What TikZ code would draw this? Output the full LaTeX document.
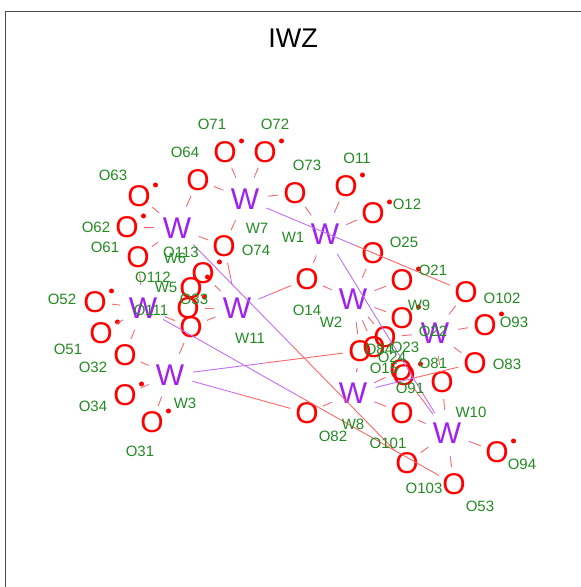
\documentclass[tikz,border=0pt]{standalone}
\usepackage{fontspec}
\setmainfont{Liberation Sans}
\usetikzlibrary{calc}
\definecolor{wpurple}{RGB}{160,32,240}
\definecolor{lgreen}{RGB}{34,139,34}

\tikzset{
  wnode/.style={circle, inner sep=0pt, minimum size=46pt, text=wpurple,
                font=\fontsize{30}{30}\selectfont},
  onode/.style={circle, inner sep=0pt, minimum size=34pt, text=red,
                font=\fontsize{30}{30}\selectfont},
  lbl/.style={text=lgreen, inner sep=0pt, font=\fontsize{15}{15}\selectfont},
  rdot/.style={circle, fill=red, inner sep=0pt, minimum size=5pt},
  hasdot/.style={label={[rdot]32:{}}},
  wline/.style={wpurple!65, line width=0.9pt},
  oline/.style={red!60, line width=0.9pt},
}

\begin{document}
\begin{tikzpicture}[x=1pt, y=-1pt]
\useasboundingbox (0,0) rectangle (581,587);
\draw[black!70, line width=1pt] (5,587) -- (5,11) -- (581,11);
\node[font=\fontsize{27}{27}\selectfont] (title) at (293,38) {IWZ};

 \begin{scope}[every node/.style=wnode]
  \node (W1) at (325,234) {W};
  \node (W2) at (353,299) {W};
  \node (W3) at (170,375) {W};
  \node (W5) at (143,308) {W};
  \node (W6) at (177,228) {W};
  \node (W7) at (245,199) {W};
  \node (W8) at (353,393) {W};
  \node (W9) at (435,333) {W};
  \node (W10) at (447,433) {W};
  \node (W11) at (237,308) {W};
 \end{scope}
 \begin{scope}[every node/.style=onode]
  \node[hasdot] (O71) at (225,152) {O};
  \node[hasdot] (O72) at (265,152) {O};
  \node (O64) at (198,180) {O};
  \node[hasdot] (O63) at (139,196) {O};
  \node[hasdot] (O62) at (127,227) {O};
  \node (O61) at (138,257) {O};
  \node (O73) at (295,193) {O};
  \node[hasdot] (O11) at (346,186) {O};
  \node[hasdot] (O12) at (373,213) {O};
  \node (O25) at (373,253) {O};
  \node (O74) at (224,246) {O};
  \node[hasdot] (O113) at (203,273) {O};
  \node[hasdot] (O112) at (191,288) {O};
  \node[hasdot] (O111) at (188,308) {O};
  \node (O33) at (191,327) {O};
  \node[hasdot] (O52) at (95,302) {O};
  \node[hasdot] (O51) at (101,333) {O};
  \node (O32) at (125,355) {O};
  \node[hasdot] (O34) at (125,395) {O};
  \node[hasdot] (O31) at (152,422) {O};
  \node (O14) at (307,279) {O};
  \node[hasdot] (O21) at (402,280) {O};
  \node (O102) at (466,292) {O};
  \node[hasdot] (O93) at (485,325) {O};
  \node (O83) at (475,363) {O};
  \node[hasdot] (O22) at (402,318) {O};
  \node (O23) at (385,337) {O};
  \node (O24) at (374,347) {O};
  \node (O84) at (360,351) {O};
  \node (O15) at (401,370) {O};
  \node[hasdot] (O81) at (404,375) {O};
  \node (O91) at (442,382) {O};
  \node (O82) at (307,413) {O};
  \node (O101) at (402,413) {O};
  \node (O103) at (407,463) {O};
  \node (O53) at (454,484) {O};
  \node[hasdot] (O94) at (497,452) {O};
 \end{scope}

 % each edge: W half in purple, O half in red
 \foreach \w/\o in {W6/O63, W6/O62, W6/O61, W6/O64, W6/O74, W6/O103,
   W7/O71, W7/O72, W7/O64, W7/O73, W7/O74, W7/O102,
   W1/O73, W1/O11, W1/O12, W1/O14,
   W2/O14, W2/O21, W2/O25, W2/O22, W2/O23, W2/O24, W2/O84,
   W11/O113, W11/O111, W11/O33, W11/O74, W11/O14,
   W5/O52, W5/O51, W5/O61, W5/O32, W5/O33, W5/O53,
   W3/O32, W3/O34, W3/O31, W3/O33, W3/O84, W3/O82,
   W8/O82, W8/O101, W8/O84, W8/O15, W8/O83,
   W9/O102, W9/O93, W9/O83, W9/O91, W9/O23,
   W10/O101, W10/O103, W10/O53, W10/O94, W10/O91, W10/O81} {
  \path [wline] (\w) edge ($(\w)!.5!(\o)$);
  \path [oline] (\o) edge ($(\w)!.5!(\o)$);
 }
 \path [wline] (W1) edge (W10);

 \begin{scope}[every node/.style=lbl]
  \node (tO71) at (212,124) {O71};
  \node (tO72) at (275,124) {O72};
  \node (tO64) at (185,152) {O64};
  \node (tO63) at (113,175) {O63};
  \node (tO62) at (96,227) {O62};
  \node (tO61) at (105,247) {O61};
  \node (tO73) at (307,165) {O73};
  \node (tO11) at (357,158) {O11};
  \node (tO12) at (407,204) {O12};
  \node (tO25) at (404,242) {O25};
  \node (tW7) at (257,228) {W7};
  \node (tW1) at (293,237) {W1};
  \node (tW6) at (175,258) {W6};
  \node (tO113) at (181,252) {O113};
  \node (tO74) at (256,250) {O74};
  \node (tO112) at (153,277) {O112};
  \node (tW5) at (166,287) {W5};
  \node (tO111) at (151,310) {O111};
  \node (tO33) at (194,299) {O33};
  \node (tO52) at (62,299) {O52};
  \node (tO51) at (68,349) {O51};
  \node (tO32) at (93,367) {O32};
  \node (tO34) at (93,406) {O34};
  \node (tO31) at (140,451) {O31};
  \node (tW3) at (185,403) {W3};
  \node (tW11) at (250,338) {W11};
  \node (tO14) at (307,310) {O14};
  \node (tW2) at (331,322) {W2};
  \node (tO21) at (433,270) {O21};
  \node (tO102) at (502,298) {O102};
  \node (tO93) at (514,322) {O93};
  \node (tO83) at (507,364) {O83};
  \node (tW9) at (419,305) {W9};
  \node (tO22) at (433,331) {O22};
  \node (tO84) at (379,349) {O84};
  \node (tO23) at (405,347) {O23};
  \node (tO24) at (392,357) {O24};
  \node (tO15) at (384,368) {O15};
  \node (tO81) at (433,363) {O81};
  \node (tO91) at (410,388) {O91};
  \node (tW8) at (353,424) {W8};
  \node (tO82) at (333,436) {O82};
  \node (tO101) at (388,443) {O101};
  \node (tW10) at (471,412) {W10};
  \node (tO103) at (424,488) {O103};
  \node (tO53) at (480,506) {O53};
  \node (tO94) at (522,464) {O94};
 \end{scope}
\end{tikzpicture}
\end{document}
